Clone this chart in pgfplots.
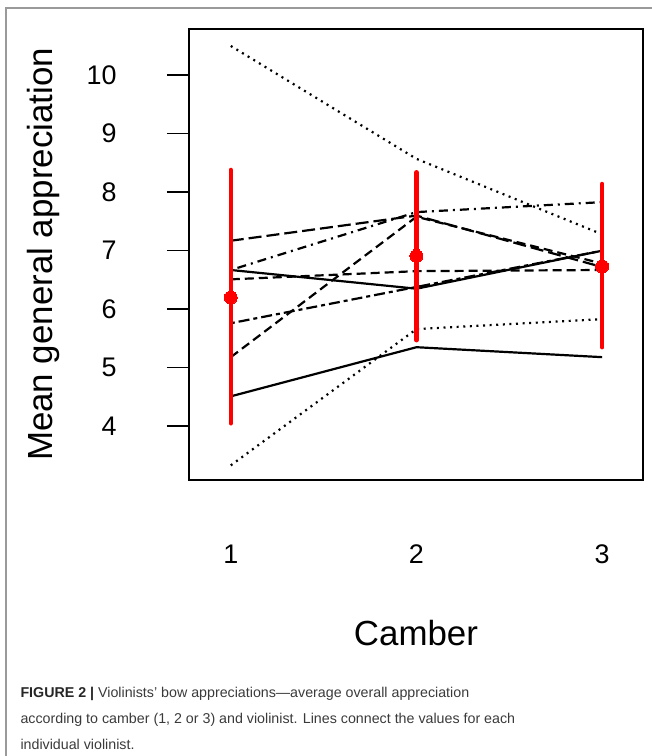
\documentclass[border=0pt]{standalone}
\usepackage{fontspec}
\setmainfont{Liberation Sans}
\usepackage{pgfplots}
\pgfplotsset{compat=1.18}
\definecolor{capgray}{HTML}{3A3A3A}
\definecolor{framegray}{HTML}{9A9A9A}
\begin{document}
\begin{tikzpicture}[x=1bp,y=1bp]
\useasboundingbox (0,0) rectangle (652,756);
\draw[framegray, line width=1.3bp] (6,0) -- (6,748) -- (652,748);
\begin{axis}[
  at={(189bp,276bp)}, anchor=south west,
  scale only axis, width=454bp, height=451bp,
  xmin=0.775, xmax=3.22, ymin=3.08, ymax=10.79,
  xtick={1,2,3}, ytick={4,5,6,7,8,9,10},
  axis line style={line width=1.6bp},
  tick align=outside, major tick length=22bp,
  x tick style={draw=none},
  y tick style={line width=1.6bp, black},
  xtick pos=bottom, ytick pos=left,
  /pgf/number format/assume math mode=true,
  ticklabel style={font=\fontsize{27}{27}\selectfont},
  xticklabel style={anchor=base, yshift=-62bp},
  yticklabel style={anchor=east, xshift=-47bp},
  xlabel={Camber}, ylabel={Mean general appreciation},
  label style={font=\fontsize{35}{35}\selectfont},
  xlabel style={at={(axis description cs:0.5,-0.366)}, anchor=base},
  ylabel style={at={(axis description cs:-0.32,0.5)}, anchor=center},
  clip=false,
]
% individual violinists
\addplot[black, line width=2.2bp, dash pattern=on 2bp off 4.6bp] coordinates {(1,10.5) (2,8.57) (3,7.28)};
\addplot[black, line width=2.2bp, dash pattern=on 2bp off 4.6bp] coordinates {(1,3.33) (2,5.66) (3,5.83)};
\addplot[black, line width=2.2bp] coordinates {(1,4.51) (2,5.35) (3,5.18)};
\addplot[black, line width=2.2bp] coordinates {(1,6.67) (2,6.35) (3,7.0)};
\addplot[black, line width=2.2bp, dash pattern=on 9bp off 5bp] coordinates {(1,6.51) (2,6.65) (3,6.67)};
\addplot[black, line width=2.2bp, dash pattern=on 4bp off 4bp on 11bp off 4bp] coordinates {(1,5.76) (2,6.38) (3,7.0)};
\addplot[black, line width=2.2bp, dash pattern=on 9bp off 5bp] coordinates {(1,5.18) (2,7.58) (3,6.78)};
\addplot[black, line width=2.2bp, dash pattern=on 13bp off 5bp] coordinates {(1,7.17) (2,7.6) (3,6.72)};
\addplot[black, line width=2.2bp, dash pattern=on 2bp off 5bp on 9bp off 5bp] coordinates {(1,6.67) (2,7.66) (3,7.83)};
% means with intervals
\addplot[red, line width=4.5bp, line cap=round, only marks, mark=*, mark size=6.5bp,
  mark options={fill=red, draw=red, line width=0bp},
  error bars/.cd, y dir=both, y explicit, error mark=none,
  error bar style={red, line width=4.5bp, line cap=round}]
  coordinates {
  (1,6.2)  += (0,2.18) -= (0,2.15)
  (2,6.91) += (0,1.43) -= (0,1.44)
  (3,6.73) += (0,1.41) -= (0,1.38)
  };
\end{axis}
\node[anchor=base west, text=capgray, font=\fontsize{14.3}{14.3}\selectfont] at (17,58) {\textbf{\color{black!85}FIGURE 2 |} Violinists’ bow appreciations—average overall appreciation};
\node[anchor=base west, text=capgray, font=\fontsize{14.3}{14.3}\selectfont] at (17,32) {according to camber (1, 2 or 3) and violinist. Lines connect the values for each};
\node[anchor=base west, text=capgray, font=\fontsize{14.3}{14.3}\selectfont] at (17,6) {individual violinist.};
\end{tikzpicture}
\end{document}
